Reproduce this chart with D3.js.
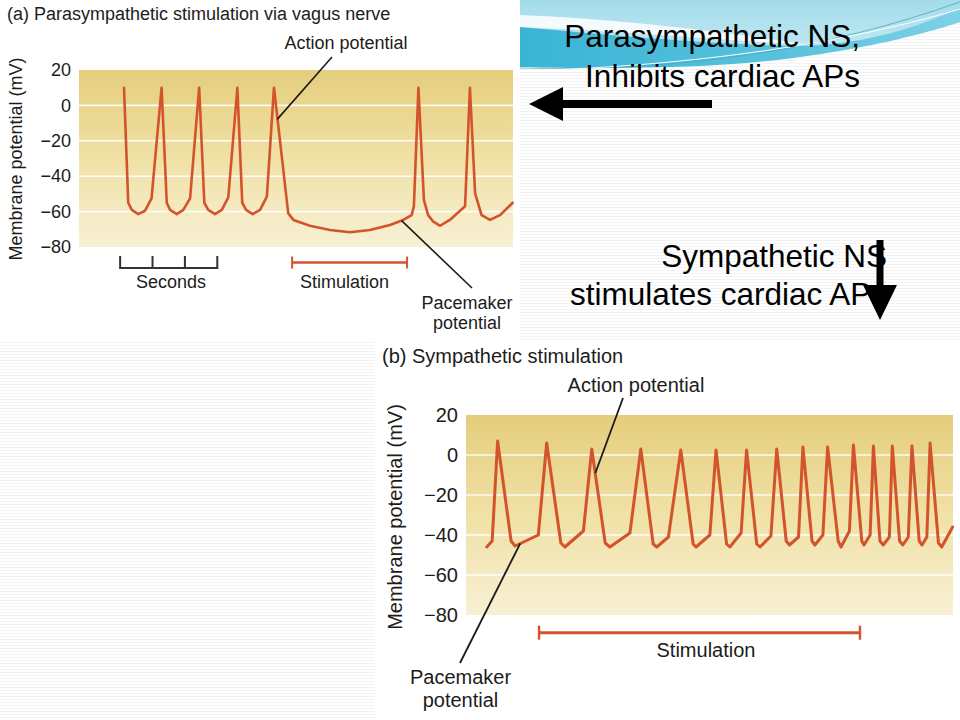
<!DOCTYPE html>
<html>
<head>
<meta charset="utf-8">
<script src="https://cdnjs.cloudflare.com/ajax/libs/d3/7.8.5/d3.min.js"></script>
<style>
  body { margin: 0; background: #fff; }
  svg text { font-family: "Liberation Sans", Arial, Helvetica, sans-serif; fill: #1c1c1c; }
</style>
</head>
<body>
<div id="chart"></div>
<script>
// Panel (a): parasympathetic stimulation, time (s) vs membrane potential (mV)
const timeA = [1.39, 1.52, 1.63, 1.83, 2.04, 2.24, 2.55, 2.71, 2.81, 3.02, 3.22, 3.43,
               3.71, 3.87, 3.99, 4.20, 4.41, 4.61, 4.89, 5.04, 5.16, 5.36, 5.59, 5.80,
               6.02, 6.46, 6.62, 7.13, 7.75, 8.37, 8.98, 9.60, 10.01, 10.27, 10.34,
               10.48, 10.65, 10.78, 10.94, 11.15, 11.45, 11.92,
               12.07, 12.23, 12.43, 12.69, 13.00, 13.39];
const mvA = [10, -55, -59, -61.4, -59.5, -52.5, 10, -55, -59, -61.4, -59, -52.5,
             10, -55, -59, -61.4, -59, -52, 10, -55, -59, -61.4, -59, -51.5,
             10, -61, -64.7, -68, -70.4, -71.7, -70.4, -67.6, -64.7, -62, -57,
             10, -53.5, -62, -65.7, -68, -64.7, -57,
             10, -49.7, -62, -64.7, -62, -55];

// Panel (b): sympathetic stimulation
const timeB = [0.57, 0.72, 0.87, 1.24, 1.35, 1.99, 2.22, 2.61, 2.72, 3.23, 3.46,
               3.83, 3.96, 4.51, 4.81, 5.15, 5.25, 5.57, 5.91, 6.25, 6.33, 6.71, 6.88,
               7.17, 7.26, 7.57, 7.72, 8.00, 8.09, 8.39, 8.55, 8.81, 8.90, 9.15, 9.27,
               9.52, 9.60, 9.82, 9.95, 10.24, 10.32, 10.55, 10.66, 10.89, 10.95, 11.12, 11.21,
               11.39, 11.48, 11.65, 11.73, 11.93, 12.02, 12.17, 12.27, 12.47, 12.55, 12.68, 12.77,
               13.00, 13.09, 13.39];
const mvB = [-46, -43, 7, -43, -45.5, -40, 6, -44, -46, -38, 3,
             -44, -46, -39, 3, -44.5, -46, -41, 2.5, -44.5, -46, -40, 2.5,
             -44.5, -46, -39, 2.5, -44.5, -46, -40.5, 3, -43, -45, -41, 4,
             -43, -45, -40, 4, -43, -46, -38, 5, -43, -45, -40, 4.5,
             -43, -45, -41, 4.5, -43, -45, -41, 4.5, -43, -45, -41, 6,
             -44, -46, -36];

const yTicks = [20, 0, -20, -40, -60, -80];
const gridValues = [0, -20, -40, -60];
const stimA = [6.58, 10.13];
const stimB = [2.01, 10.84];
const secondsTicks = [1.27, 2.27, 3.27, 4.27];
const timeDomain = [0, 13.4];
const mvDomain = [-80, 20];

const traceColor = "#d3542c";

const svg = d3.select("#chart")
    .append("svg")
    .attr("width", 960)
    .attr("height", 720);

const defs = svg.append("defs");

// faint striped slide background
const stripes = defs.append("pattern")
    .attr("id", "stripes")
    .attr("width", 4).attr("height", 3)
    .attr("patternUnits", "userSpaceOnUse");
stripes.append("rect").attr("width", 4).attr("height", 3).attr("fill", "#ffffff");
stripes.append("rect").attr("width", 4).attr("height", 1).attr("fill", "#f3f3f3");

const plotGrad = defs.append("linearGradient")
    .attr("id", "plotGrad")
    .attr("x1", 0).attr("y1", 0).attr("x2", 0).attr("y2", 1);
plotGrad.append("stop").attr("offset", "0%").attr("stop-color", "#e4cd7c");
plotGrad.append("stop").attr("offset", "50%").attr("stop-color", "#f0e1a6");
plotGrad.append("stop").attr("offset", "100%").attr("stop-color", "#f8f0d4");

const skyGrad = defs.append("linearGradient")
    .attr("id", "skyGrad")
    .attr("x1", 0).attr("y1", 0).attr("x2", 0).attr("y2", 1);
skyGrad.append("stop").attr("offset", "0%").attr("stop-color", "#a3dbea");
skyGrad.append("stop").attr("offset", "100%").attr("stop-color", "#cdeef5");

const bandGrad = defs.append("linearGradient")
    .attr("id", "bandGrad")
    .attr("x1", 0).attr("y1", 0).attr("x2", 1).attr("y2", 0);
bandGrad.append("stop").attr("offset", "0%").attr("stop-color", "#3ab4d5");
bandGrad.append("stop").attr("offset", "60%").attr("stop-color", "#58c2dd");
bandGrad.append("stop").attr("offset", "100%").attr("stop-color", "#7fd1e6");

svg.append("rect").attr("width", 960).attr("height", 720).attr("fill", "url(#stripes)");

// decorative swoosh at the top right
svg.append("path")
    .attr("d", "M520,0 H960 V22 C900,42 800,62 700,66 C620,69 560,68 520,67 Z")
    .attr("fill", "url(#skyGrad)");
svg.append("path")
    .attr("d", "M520,27 C620,36 720,45 800,46 C870,44 920,26 960,8 V22 C900,42 800,62 700,66 C620,69 560,68 520,67 Z")
    .attr("fill", "url(#bandGrad)");
svg.append("path")
    .attr("d", "M520,15 C620,19 720,31 810,45 C720,40 620,31 520,27 Z")
    .attr("fill", "#ffffff").attr("opacity", 0.85);
svg.append("path")
    .attr("d", "M520,68 C690,72 830,48 960,2")
    .attr("fill", "none").attr("stroke", "#4aa8be").attr("stroke-width", 0.8);
svg.append("path")
    .attr("d", "M520,71 C700,66 850,42 960,9")
    .attr("fill", "none").attr("stroke", "#ffffff").attr("stroke-width", 1);

// white figure areas
svg.append("rect").attr("x", 0).attr("y", 0).attr("width", 520).attr("height", 340).attr("fill", "#fff");
svg.append("rect").attr("x", 375).attr("y", 340).attr("width", 585).attr("height", 380).attr("fill", "#fff");

const panelA = {
    left: 79, right: 513, top: 70, bottom: 247, font: 18, stroke: 2.6, leader: 1.6,
    title: "(a) Parasympathetic stimulation via vagus nerve", titleX: 7, titleY: 19.5,
    yLabelX: 22, yLabelY: 159,
    stimY: 262.5, stimTick: 6, stimLabelX: 344.5, stimLabelY: 287.5,
    action: {x: 346, y: 49, fromX: 332, fromY: 57, t: 6.12, mv: -7.9},
    pacemaker: {x: 467, y: 309, dy: 19.5, fromX: 472, fromY: 288, t: 9.96, mv: -65.1}
};

const panelB = {
    left: 466, right: 953, top: 415, bottom: 615, font: 20, stroke: 3, leader: 1.8,
    title: "(b) Sympathetic stimulation", titleX: 382, titleY: 363,
    yLabelX: 402, yLabelY: 517,
    stimY: 632.7, stimTick: 7, stimLabelX: 706, stimLabelY: 656.5,
    action: {x: 636, y: 392, fromX: 623, fromY: 398, t: 3.56, mv: -9},
    pacemaker: {x: 460.5, y: 684, dy: 23, fromX: 460, fromY: 663, t: 1.49, mv: -44.3}
};

function drawPanel(p, times, values, stim) {
    const g = svg.append("g");

    const x = d3.scaleLinear().domain(timeDomain).range([p.left, p.right]);
    const y = d3.scaleLinear().domain(mvDomain).range([p.bottom, p.top]);

    g.append("rect")
        .attr("x", p.left).attr("y", p.top)
        .attr("width", p.right - p.left).attr("height", p.bottom - p.top)
        .attr("fill", "url(#plotGrad)");

    // grid lines
    g.selectAll(".grid")
        .data(gridValues)
        .enter()
        .append("line")
        .attr("class", "grid")
        .attr("x1", p.left).attr("x2", p.right)
        .attr("y1", d => y(d)).attr("y2", d => y(d))
        .attr("stroke", "#ffffff")
        .attr("stroke-opacity", 0.9)
        .attr("stroke-width", 1.6);

    // y axis
    const axis = g.append("g")
        .attr("transform", `translate(${p.left},0)`)
        .call(d3.axisLeft(y).tickValues(yTicks).tickSize(0).tickPadding(8)
            .tickFormat(d3.format("d")));
    axis.select(".domain").remove();
    axis.selectAll("text")
        .style("font-size", p.font + "px")
        .style("font-family", '"Liberation Sans", Arial, sans-serif')
        .attr("fill", "#1c1c1c");

    g.append("text")
        .attr("transform", `translate(${p.yLabelX},${p.yLabelY}) rotate(-90)`)
        .attr("text-anchor", "middle")
        .style("font-size", p.font + "px")
        .text("Membrane potential (mV)");

    g.append("text")
        .attr("x", p.titleX).attr("y", p.titleY)
        .style("font-size", p.font + "px")
        .text(p.title);

    // membrane potential trace
    const pts = times.map((t, i) => [t, values[i]]);
    const line = d3.line()
        .x(d => x(d[0]))
        .y(d => y(d[1]))
        .curve(d3.curveLinear);

    g.append("path")
        .datum(pts)
        .attr("d", line)
        .attr("fill", "none")
        .attr("stroke", traceColor)
        .attr("stroke-width", p.stroke)
        .attr("stroke-linejoin", "round")
        .attr("stroke-linecap", "round");

    // stimulation bar
    g.append("line")
        .attr("x1", x(stim[0])).attr("x2", x(stim[1]))
        .attr("y1", p.stimY).attr("y2", p.stimY)
        .attr("stroke", traceColor).attr("stroke-width", p.stroke);
    g.selectAll(".stimEnd")
        .data(stim)
        .enter()
        .append("line")
        .attr("class", "stimEnd")
        .attr("x1", d => x(d)).attr("x2", d => x(d))
        .attr("y1", p.stimY - p.stimTick).attr("y2", p.stimY + p.stimTick)
        .attr("stroke", traceColor).attr("stroke-width", p.stroke - 0.6);
    g.append("text")
        .attr("x", p.stimLabelX).attr("y", p.stimLabelY)
        .attr("text-anchor", "middle")
        .style("font-size", p.font + "px")
        .text("Stimulation");

    // annotations
    g.append("line")
        .attr("x1", p.action.fromX).attr("y1", p.action.fromY)
        .attr("x2", x(p.action.t)).attr("y2", y(p.action.mv))
        .attr("stroke", "#1a1a1a").attr("stroke-width", p.leader);
    g.append("text")
        .attr("x", p.action.x).attr("y", p.action.y)
        .attr("text-anchor", "middle")
        .style("font-size", p.font + "px")
        .text("Action potential");

    g.append("line")
        .attr("x1", p.pacemaker.fromX).attr("y1", p.pacemaker.fromY)
        .attr("x2", x(p.pacemaker.t)).attr("y2", y(p.pacemaker.mv))
        .attr("stroke", "#1a1a1a").attr("stroke-width", p.leader);
    const pm = g.append("text")
        .attr("text-anchor", "middle")
        .style("font-size", p.font + "px");
    pm.append("tspan").attr("x", p.pacemaker.x).attr("y", p.pacemaker.y).text("Pacemaker");
    pm.append("tspan").attr("x", p.pacemaker.x).attr("y", p.pacemaker.y + p.pacemaker.dy).text("potential");

    return x;
}

const xA = drawPanel(panelA, timeA, mvA, stimA);
drawPanel(panelB, timeB, mvB, stimB);

// seconds scale bar (panel a)
const secY = 268;
svg.append("line")
    .attr("x1", xA(secondsTicks[0])).attr("x2", xA(secondsTicks[secondsTicks.length - 1]))
    .attr("y1", secY).attr("y2", secY)
    .attr("stroke", "#333").attr("stroke-width", 2);
svg.selectAll(".secTick")
    .data(secondsTicks)
    .enter()
    .append("line")
    .attr("class", "secTick")
    .attr("x1", d => xA(d)).attr("x2", d => xA(d))
    .attr("y1", secY + 1).attr("y2", secY - 12)
    .attr("stroke", "#333").attr("stroke-width", 2);
svg.append("text")
    .attr("x", 171).attr("y", 287.5)
    .attr("text-anchor", "middle")
    .style("font-size", "18px")
    .text("Seconds");

// slide text
const slideText = [
    {text: "Parasympathetic NS,", x: 860, y: 47},
    {text: "Inhibits cardiac APs", x: 860, y: 87},
    {text: "Sympathetic NS", x: 887, y: 267},
    {text: "stimulates cardiac APs", x: 887, y: 305}
];
svg.selectAll(".slideText")
    .data(slideText)
    .enter()
    .append("text")
    .attr("class", "slideText")
    .attr("x", d => d.x).attr("y", d => d.y)
    .attr("text-anchor", "end")
    .style("font-size", "31.5px")
    .style("fill", "#000")
    .text(d => d.text);

// arrows
svg.append("rect").attr("x", 562).attr("y", 100).attr("width", 150).attr("height", 8).attr("fill", "#000");
svg.append("path").attr("d", "M529,104 L563,87 L563,121 Z").attr("fill", "#000");
svg.append("rect").attr("x", 876.5).attr("y", 240).attr("width", 7).attr("height", 46).attr("fill", "#000");
svg.append("path").attr("d", "M863,285 L897,285 L880,320 Z").attr("fill", "#000");
</script>
</body>
</html>
